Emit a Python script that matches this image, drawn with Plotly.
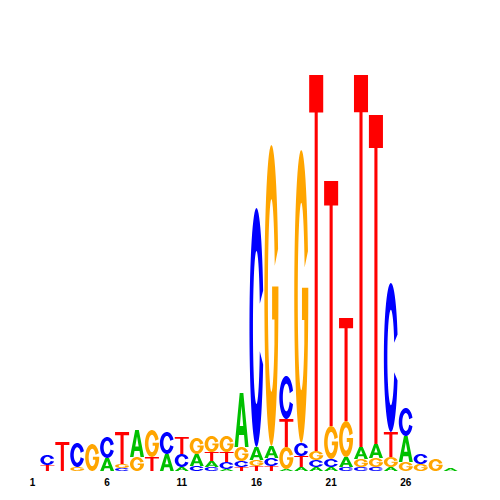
import numpy as np
import plotly.graph_objects as go

# ---- data (information content in bits per letter, per position) ----
positions = list(range(1, 31))
A = [0, 0, 0, 0, 0, 0.065, 0, 0.135, 0, 0.085, 0.02, 0.06, 0.03, 0.01, 0.27,
     0.065, 0.06, 0.01, 0.02, 0.02, 0.02, 0.05, 0.06, 0.07, 0.02, 0.13, 0, 0, 0.015, 0]
C = [0, 0.05, 0, 0.12, 0, 0.105, 0.015, 0, 0, 0.11, 0.065, 0.025, 0.02, 0.035, 0.03,
     1.195, 0.04, 0.215, 0.065, 0.035, 0.04, 0.02, 0.02, 0.02, 0.745, 0.14, 0.05, 0, 0, 0]
G = [0, 0, 0, 0.02, 0.135, 0, 0.02, 0.07, 0.135, 0, 0, 0.08, 0.08, 0.08, 0.07,
     0.03, 1.505, 0.11, 1.465, 0.045, 0.165, 0.18, 0.04, 0.045, 0.05, 0.045, 0.035, 0.06, 0, 0]
T = [0, 0.03, 0.145, 0, 0, 0, 0.16, 0, 0.07, 0, 0.085, 0, 0.045, 0.05, 0.02,
     0.025, 0.025, 0.14, 0.055, 1.88, 1.225, 0.515, 1.86, 1.645, 0.125, 0, 0, 0, 0, 0]
tick_vals = [1, 6, 11, 16, 21, 26]
tick_text = ["1", "6", "11", "16", "21", "26"]

colors = {"A": "#00C000", "C": "#0000FF", "G": "#FFA500", "T": "#FF0000"}


def arc(rx, ry, a0, a1, n=60):
    th = np.radians(np.linspace(a0, a1, n))
    return list(zip(0.5 + rx * np.cos(th), 0.5 + ry * np.sin(th)))


# glyph outlines in a unit box (style, not data)
GLYPHS = {
    "T": [[(0, 1), (1, 1), (1, 0.9), (0.61, 0.9), (0.61, 0), (0.39, 0), (0.39, 0.9), (0, 0.9)]],
    "A": [[(0, 0), (0.25, 0), (0.32, 0.22), (0.68, 0.22), (0.75, 0), (1, 0), (0.63, 1), (0.37, 1)],
          [(0.38, 0.39), (0.62, 0.39), (0.5, 0.76)]],
    "C": [arc(0.5, 0.5, 18, 342) + arc(0.25, 0.32, 342, 18)],
    "G": [arc(0.5, 0.5, 18, 360) + [(1, 0.53), (0.55, 0.53), (0.55, 0.42), (0.72, 0.42)]
          + arc(0.25, 0.32, 330, 18)],
}

HALF_W = 0.47


def glyph_path(letter, xc, y0, h):
    parts = []
    for poly in GLYPHS[letter]:
        pts = [(xc - HALF_W + 2 * HALF_W * ux, y0 + uy * h) for ux, uy in poly]
        s = "M " + " L ".join(f"{x:.4f},{y:.5f}" for x, y in pts) + " Z"
        parts.append(s)
    return " ".join(parts)


fig = go.Figure()
# invisible trace so the axes exist
fig.add_trace(go.Scatter(x=positions, y=[0] * len(positions), mode="markers",
                         marker=dict(opacity=0), hoverinfo="skip", showlegend=False))

letters = {"A": A, "C": C, "G": G, "T": T}
for i, p in enumerate(positions):
    col = [(letters[k][i], k) for k in "ACGT" if letters[k][i] > 0]
    col.sort()
    y = 0.0
    for h, k in col:
        fig.add_shape(type="path", path=glyph_path(k, p, y, h), xref="x", yref="y",
                      fillcolor=colors[k], line=dict(width=0), fillrule="evenodd",
                      layer="above")
        y += h

fig.update_layout(
    width=500, height=500,
    margin=dict(l=17, r=35, t=63, b=37),
    paper_bgcolor="white", plot_bgcolor="white",
    showlegend=False,
    xaxis=dict(range=[0.5, 30.5], showgrid=False, zeroline=False, showline=False,
               tickmode="array", tickvals=tick_vals, ticktext=tick_text, ticks="",
               ticklabelstandoff=4,
               tickfont=dict(family="Liberation Sans", size=10, color="black", weight="bold")),
    yaxis=dict(range=[0, 2], visible=False, showgrid=False, zeroline=False),
)

fig.write_html("out.html")
